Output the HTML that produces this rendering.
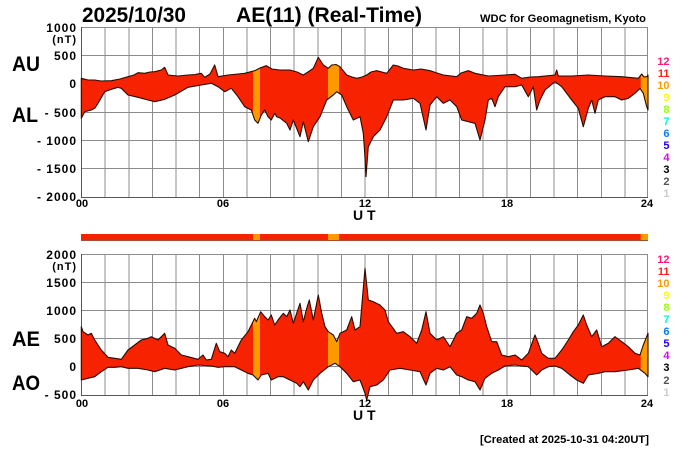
<!DOCTYPE html>
<html><head><meta charset="utf-8"><style>
html,body{margin:0;padding:0;background:#fff;width:700px;height:450px;overflow:hidden}
svg{display:block}
text{font-family:"Liberation Sans",Arial,sans-serif;font-weight:bold}
</style></head><body>
<svg width="700" height="450" viewBox="0 0 700 450" xmlns="http://www.w3.org/2000/svg">
<defs>
<polygon id="p1" points="81.3,78.3 88,80 94.7,80 101,81 111.3,80.7 120,79 128,76.7 134,75 138,72.7 144.7,73.3 150,72 154.7,71.7 161.3,70 164.7,67.3 168,75 178,76 188,75 195,74.5 201.3,73.3 204.7,77.3 210,74 214.7,65 218,76.7 228,75 238,74 244.7,73.3 254.7,70.7 260,68 266.3,65.7 272,69 280,70 290,70 297,72 303.3,75 308,72 313.3,68.3 318.3,57.3 323.3,65 328.3,68.3 331.7,65 336,64.5 340,66.7 346.7,75 352,77 356.7,78.3 362,77 366.7,75 371,72 376.7,70.7 386.7,73.3 393.3,65 398,66 403.3,68.3 413.3,70 421,69 430,70.7 437,73 443.3,75 456.7,76.7 461,73 468.3,70.7 475,73.3 488.3,76 505,75 515,74.3 521.7,78.3 530,77 538.3,76.7 555,75 556.7,70 558.3,76 571.7,76 588.3,75 605,76 621.7,76.7 638.3,78.3 641.7,74 644,77 646.7,76.7 648,75 648,110 646.7,106.7 643.3,93.3 640,88.3 635,93.3 628.3,98.3 621.7,100 615,96.7 605,96.7 598.3,100 595,113.3 591.7,100 588.3,108.3 583.3,126.7 578.3,108.3 571.7,100 561.7,86.7 555,81.7 545,90 540,100 536.7,110 533.3,86.7 528.3,96.7 521.7,85 515,86.7 505,86.7 498.3,96.7 495,106.7 491.7,98.3 488.3,100 485,120 480,140 475,123.3 468.3,121.7 461.7,120 456.7,106.7 450,100 443.3,103.3 436.7,96.7 430,105 426,130 420,103.3 413.3,98.3 403.3,100 393.3,100 386.7,116.7 380,130 373.3,136.7 368.3,146.7 366,176.7 364.5,150 363.3,133.3 360,116.7 353.3,120 346.7,106.7 341.7,95 336.7,91.7 333.3,95 326.7,100 320,116.7 313.3,126.7 308.3,141.7 303.3,121.7 300,136.7 293.3,120 290,130 286.7,123.3 280,118 276.7,116.7 274.7,113.3 271.3,120 268,116.7 264.7,110 261.3,115 258,123.3 254.7,120 251.3,110 244.7,106.7 238,96.7 231.3,88.3 224.7,91.7 218,86.7 211.3,83.3 201.3,85 188,87.3 174.7,95 164.7,99.3 154.7,101.7 148,100 138,97.3 128,95 121.3,88.3 118,87.3 111.3,89.3 104.7,91.7 98,103.3 94.7,108.3 91.3,110 84.7,111.7 81.3,118.3"/>
<polygon id="p2" points="81.3,326.7 83,331.7 88,335 91.3,333.3 94.7,340 101.3,350 108,357.3 114.7,358.3 121.3,359.3 128,350 134.7,345 141.3,340 148,338.3 151.3,336.7 158,340 164.7,333.3 168,345 174.7,348.3 181.3,355 188,356.7 198,359.3 203,355 206.3,360 211.3,359.3 216.3,343.3 219.7,351.7 224.7,353.3 228,356.7 231.3,350 234.7,353.3 241.3,340 248,331.7 254.7,318.3 256.3,321.7 260.7,311.7 264.7,316.7 268,320 271.3,315 274.7,325 278,320 283.3,313.3 286.7,316.7 290,310 293.3,323.3 300,303.3 303.3,321.7 306.7,308.3 309.3,300 313.3,320 318.3,295 321.7,313.3 325,326.7 328.3,331.7 333.3,335 336.7,341.7 340,333.3 346.7,330 351.7,316.7 355,330 360,326.7 365,268.3 368.3,300 373.3,301.7 380,305 385,310 388.3,321.7 396.7,333.3 403.3,331.7 410,336.7 416.7,343.3 421.7,330 426,311.7 430,333.3 436.7,340 443.3,336.7 450,346.7 456.7,333.3 461.7,330 466.7,316.7 471.7,318.3 476.7,313.3 480,305 483.3,313.3 486.7,326.7 491.7,341.7 496.7,341.7 501.7,355 508.3,356.7 515,355 521.7,360 528.3,353.3 535,335 538.3,343.3 541.7,353.3 548.3,358.3 555,358.3 561.7,350 568.3,340 573.3,331.7 578.3,325 583.3,315 586.7,325 591.7,336.7 596.7,330 601.7,346.7 608.3,343.3 615,336.7 621.7,341.7 628.3,346.7 635,353.3 640,355 643.3,345 648,333.3 648,376.7 645,373.3 638.3,368.3 628.3,370 615,371.7 605,371.7 598.3,373.3 588.3,375 583.3,383.3 576.7,380 570,375 561.7,368.3 555,366 548.3,366.7 541.7,370 536.7,375 528.3,366.7 521.7,366 515,365 505,366 498.3,370 491.7,373.3 485,378.3 480,390 475,381.7 468.3,380 461.7,376.7 456.7,375 450,366.7 443.3,370 436.7,368.3 430,373.3 426,385 420,371.7 410,370 400,368.3 390,370 383.3,380 376.7,385 370,386.7 366.7,400 365,393.3 360,380 353.3,381.7 346.7,373.3 340,366.7 335,363.3 328.3,366.7 320,373.3 313.3,380 308.3,390 303.3,381.7 300,386.7 296.7,383.3 290,380 283.3,376.7 278,376.7 271.3,380 268,373.3 261.3,375 258,380 253,375 248,373.3 241.3,370 234.7,366.7 224.7,366.7 218,367.3 211.3,366 198,365 188,366.7 174.7,370 164.7,368.3 154.7,371.7 148,370 138,368.3 128,368.3 121.3,366.7 114.7,367.3 108,367.3 101.3,371.7 94.7,376.7 88,378.3 81.3,380"/>
<clipPath id="c1"><use href="#p1"/></clipPath>
<clipPath id="c2"><use href="#p2"/></clipPath>
</defs>

<!-- Titles -->
<text x="82" y="22" font-size="21" textLength="104" lengthAdjust="spacingAndGlyphs">2025/10/30</text>
<text x="236" y="22" font-size="21" textLength="186" lengthAdjust="spacingAndGlyphs">AE(11) (Real-Time)</text>
<text x="480" y="22" font-size="11" textLength="166" lengthAdjust="spacingAndGlyphs">WDC for Geomagnetism, Kyoto</text>

<!-- Grids -->
<g stroke="#8c8c8c" stroke-width="1" shape-rendering="crispEdges" fill="none">
<path fill="none" d="M81,27.5H648M81,55.5H648M81,83.5H648M81,112.5H648M81,140.5H648M81,168.5H648M81,197.5H648"/>
<path fill="none" d="M81,254.5H648M81,282.5H648M81,310.5H648M81,338.5H648M81,366.5H648M81,395.5H648"/>
<path fill="none" d="M81.5,27V197M105.1,27V197M128.8,27V197M152.4,27V197M176,27V197M199.6,27V197M223.3,27V197M246.9,27V197M270.5,27V197M294.1,27V197M317.8,27V197M341.4,27V197M365,27V197M388.6,27V197M412.3,27V197M435.9,27V197M459.5,27V197M483.1,27V197M506.8,27V197M530.4,27V197M554,27V197M577.6,27V197M601.3,27V197M624.9,27V197M647.5,27V197"/>
<path fill="none" d="M81.5,254V395M105.1,254V395M128.8,254V395M152.4,254V395M176,254V395M199.6,254V395M223.3,254V395M246.9,254V395M270.5,254V395M294.1,254V395M317.8,254V395M341.4,254V395M365,254V395M388.6,254V395M412.3,254V395M435.9,254V395M459.5,254V395M483.1,254V395M506.8,254V395M530.4,254V395M554,254V395M577.6,254V395M601.3,254V395M624.9,254V395M647.5,254V395"/>
</g>
<path d="M81.5,27V197.5H648M81.5,254V395.5H648" fill="none" stroke="#555" stroke-width="1" shape-rendering="crispEdges"/>

<!-- Top panel data -->
<use href="#p1" fill="#f72300"/>
<g clip-path="url(#c1)" fill="#ff9900">
<rect x="253" y="20" width="7" height="180"/>
<rect x="328" y="20" width="11" height="180"/>
<rect x="640.7" y="20" width="7.3" height="180"/>
</g>
<use href="#p1" fill="none" stroke="#2a0a00" stroke-width="1.1" stroke-linejoin="round"/>

<!-- Status bar -->
<rect x="81" y="234" width="567" height="6.7" fill="#f72300"/>
<rect x="253" y="234" width="7" height="6.7" fill="#ff9900"/>
<rect x="328" y="234" width="11" height="6.7" fill="#ff9900"/>
<rect x="640.7" y="234" width="7.3" height="6.7" fill="#ff9900"/>
<rect x="81" y="240" width="567" height="0.8" fill="#8a3a20"/>

<!-- Bottom panel data -->
<use href="#p2" fill="#f72300"/>
<g clip-path="url(#c2)" fill="#ff9900">
<rect x="253" y="250" width="7" height="160"/>
<rect x="328" y="250" width="11" height="160"/>
<rect x="640.7" y="250" width="7.3" height="160"/>
</g>
<use href="#p2" fill="none" stroke="#2a0a00" stroke-width="1.1" stroke-linejoin="round"/>

<!-- Y labels -->
<g font-size="12" text-anchor="end" letter-spacing="1" fill="#000">
<text x="77" y="32">1000</text>
<text x="77" y="43" font-size="11">(nT)</text>
<text x="77" y="60">500</text>
<text x="77" y="88">0</text>
<text x="77" y="117">- 500</text>
<text x="77" y="145">- 1000</text>
<text x="77" y="173">- 1500</text>
<text x="77" y="201">- 2000</text>
<text x="77" y="259">2000</text>
<text x="77" y="270" font-size="11">(nT)</text>
<text x="77" y="287">1500</text>
<text x="77" y="315">1000</text>
<text x="77" y="343">500</text>
<text x="77" y="371">0</text>
<text x="77" y="399">- 500</text>
</g>

<!-- Big labels -->
<g font-size="21" fill="#000">
<text x="12" y="71" textLength="28" lengthAdjust="spacingAndGlyphs">AU</text>
<text x="12" y="122" textLength="26" lengthAdjust="spacingAndGlyphs">AL</text>
<text x="12" y="346" textLength="28" lengthAdjust="spacingAndGlyphs">AE</text>
<text x="12" y="390" textLength="28" lengthAdjust="spacingAndGlyphs">AO</text>
</g>

<!-- X labels -->
<g font-size="11" text-anchor="middle" fill="#000">
<text x="82" y="207">00</text>
<text x="223" y="207">06</text>
<text x="365" y="207">12</text>
<text x="507" y="207">18</text>
<text x="647" y="207">24</text>
<text x="82" y="407">00</text>
<text x="223" y="407">06</text>
<text x="365" y="407">12</text>
<text x="507" y="407">18</text>
<text x="647" y="407">24</text>
</g>
<text x="353" y="220" font-size="14">U T</text>
<text x="353" y="420" font-size="14">U T</text>

<!-- Legends -->
<g font-size="11" text-anchor="end">
<text x="669.5" y="65" style="fill:#ff1a75">12</text>
<text x="669.5" y="77" style="fill:#ff2020">11</text>
<text x="669.5" y="89" style="fill:#ff9900">10</text>
<text x="669.5" y="101" style="fill:#ffff00">9</text>
<text x="669.5" y="113" style="fill:#99ff00">8</text>
<text x="669.5" y="125" style="fill:#00ffcc">7</text>
<text x="669.5" y="137" style="fill:#0080ff">6</text>
<text x="669.5" y="149" style="fill:#2200ff">5</text>
<text x="669.5" y="161" style="fill:#dd00ff">4</text>
<text x="669.5" y="173" style="fill:#000000">3</text>
<text x="669.5" y="185" style="fill:#555555">2</text>
<text x="669.5" y="197" style="fill:#cccccc">1</text>

<text x="669.5" y="263" style="fill:#ff1a75">12</text>
<text x="669.5" y="275" style="fill:#ff2020">11</text>
<text x="669.5" y="287" style="fill:#ff9900">10</text>
<text x="669.5" y="299" style="fill:#ffff00">9</text>
<text x="669.5" y="311" style="fill:#99ff00">8</text>
<text x="669.5" y="323" style="fill:#00ffcc">7</text>
<text x="669.5" y="335" style="fill:#0080ff">6</text>
<text x="669.5" y="347" style="fill:#2200ff">5</text>
<text x="669.5" y="359" style="fill:#dd00ff">4</text>
<text x="669.5" y="371" style="fill:#000000">3</text>
<text x="669.5" y="384" style="fill:#555555">2</text>
<text x="669.5" y="396" style="fill:#cccccc">1</text>
</g>

<text x="480" y="443" font-size="11" textLength="169" lengthAdjust="spacingAndGlyphs">[Created at 2025-10-31 04:20UT]</text>
</svg>
</body></html>
